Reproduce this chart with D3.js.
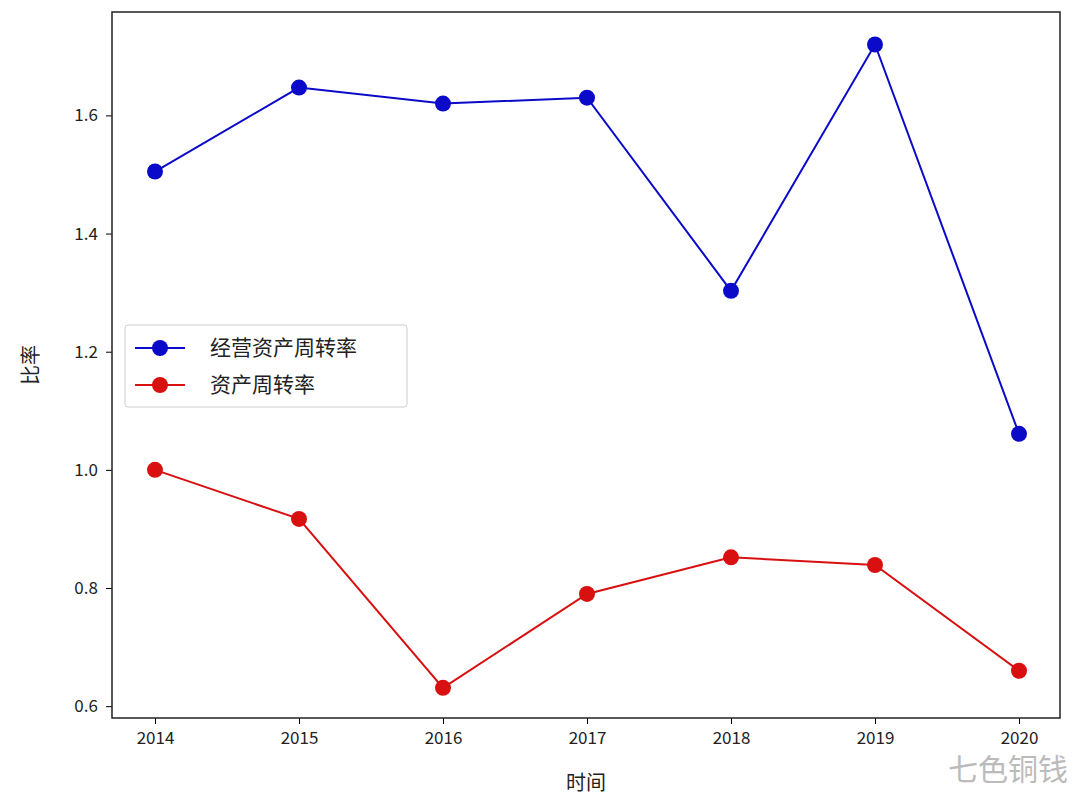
<!DOCTYPE html>
<html><head><meta charset="utf-8">
<script src="https://cdn.jsdelivr.net/npm/d3@7"></script>
<style>body{margin:0;background:#fff}text{font-family:"Noto Sans CJK SC","DejaVu Sans",sans-serif}</style>
</head><body>
<svg id="c" width="1080" height="804"></svg>
<script>
const years = [2014, 2015, 2016, 2017, 2018, 2019, 2020]
const operatingTurnover = [1.505, 1.647, 1.62, 1.63, 1.303, 1.72, 1.061]
const assetTurnover = [1.0, 0.917, 0.631, 0.79, 0.852, 0.839, 0.66]
const yTicks = [0.6, 0.8, 1.0, 1.2, 1.4, 1.6]
const seriesNames = ["经营资产周转率", "资产周转率"]
const colors = ["#0a0ac8", "#d81010"]

const svg = d3.select("#c")
const plotLeft = 112, plotRight = 1060, plotTop = 12, plotBottom = 718

const x = d3.scaleLinear().domain([2014, 2020]).range([155, 1019])
const y = d3.scaleLinear().domain([0.58, 1.775]).range([plotBottom, plotTop])

svg.append("g").attr("transform", `translate(0,${plotBottom})`)
    .call(d3.axisBottom(x).tickValues(years).tickFormat(d3.format("d")).tickSize(6))
    .call(g => g.select(".domain").remove())
    .selectAll("text").attr("font-size", 17).attr("dy", "1em").attr("fill", "#222")
svg.append("g").attr("transform", `translate(${plotLeft},0)`)
    .call(d3.axisLeft(y).tickValues(yTicks).tickFormat(d3.format(".1f")).tickSize(6))
    .call(g => g.select(".domain").remove())
    .selectAll("text").attr("font-size", 17).attr("dx", "-0.3em").attr("fill", "#222")

svg.append("rect").attr("x", plotLeft).attr("y", plotTop).attr("width", plotRight - plotLeft).attr("height", plotBottom - plotTop)
    .attr("fill", "none").attr("stroke", "#222").attr("stroke-width", 1.5)

const line = d3.line().x((d, i) => x(years[i])).y(d => y(d))
;[operatingTurnover, assetTurnover].forEach((vals, k) => {
    svg.append("path").datum(vals).attr("d", line).attr("fill", "none")
        .attr("stroke", colors[k]).attr("stroke-width", 2)
    svg.selectAll(null).data(vals).enter().append("circle")
        .attr("cx", (d, i) => x(years[i])).attr("cy", d => y(d)).attr("r", 8).attr("fill", colors[k])
})

const lg = svg.append("g")
lg.append("rect").attr("x", 125).attr("y", 325).attr("width", 282).attr("height", 82).attr("rx", 3)
    .attr("fill", "#fff").attr("fill-opacity", 0.85).attr("stroke", "#ccc")
seriesNames.forEach((n, k) => {
    const yy = 348 + k * 37
    lg.append("line").attr("x1", 135).attr("x2", 185).attr("y1", yy).attr("y2", yy).attr("stroke", colors[k]).attr("stroke-width", 2)
    lg.append("circle").attr("cx", 160).attr("cy", yy).attr("r", 8).attr("fill", colors[k])
    lg.append("text").attr("x", 210).attr("y", yy + 7).attr("font-size", 21).attr("fill", "#222").text(n)
})

svg.append("text").attr("x", 586).attr("y", 790).attr("text-anchor", "middle").attr("font-size", 20).attr("fill", "#222").text("时间")
svg.append("text").attr("transform", "translate(38,365) rotate(-90)").attr("text-anchor", "middle").attr("font-size", 20).attr("fill", "#222").text("比率")
svg.append("text").attr("x", 1068).attr("y", 780).attr("text-anchor", "end").attr("font-size", 30).attr("fill", "#bbb").text("七色铜钱")
</script>
</body></html>
